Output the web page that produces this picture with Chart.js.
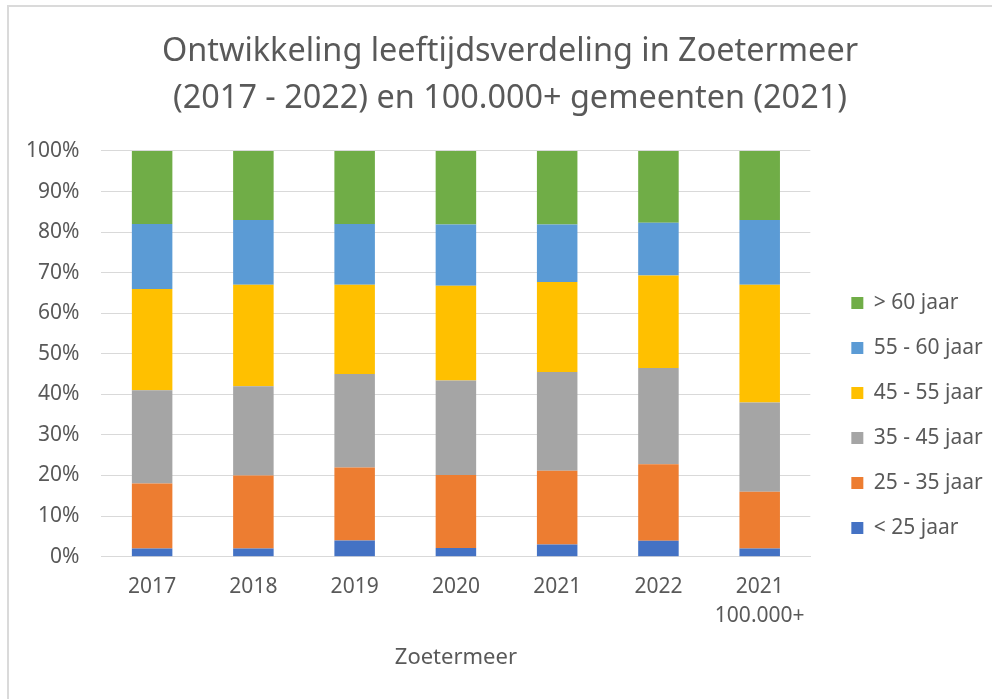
<!DOCTYPE html>
<html lang="nl">
<head>
    <meta charset="UTF-8">
    <title>Ontwikkeling leeftijdsverdeling in Zoetermeer</title>
    <script src="https://cdn.jsdelivr.net/npm/chart.js"></script>
    <style>
        body {
            margin: 0;
            background: #fff;
            font-family: 'Noto Sans', sans-serif;
        }
        .frame {
            position: absolute;
            left: 7px;
            top: 5px;
            width: 1000px;
            height: 720px;
            border-top: 2px solid #dadada;
            border-left: 2px solid #dadada;
        }
        .wrap {
            position: relative;
            width: 992px;
            height: 699px;
        }
    </style>
</head>
<body>
    <div class="frame"></div>
    <div class="wrap">
        <canvas id="ageChart"></canvas>
    </div>

    <script>
        // Categories (x axis)
        const years = ['2017', '2018', '2019', '2020', '2021', '2022', ['2021', '100.000+']];

        // Share per age group, in percent
        const under25 = [2, 2, 4, 2.1, 3, 3.9, 2];
        const age25to35 = [16, 18, 18, 18, 18.2, 18.9, 14];
        const age35to45 = [23, 22, 23, 23.3, 24.3, 23.7, 22];
        const age45to55 = [25, 25, 22, 23.4, 22.2, 22.8, 29];
        const age55to60 = [16, 16, 15, 15.1, 14.2, 13, 16];
        const over60 = [18, 17, 18, 18.1, 18.1, 17.7, 17];

        const yTicks = [0, 10, 20, 30, 40, 50, 60, 70, 80, 90, 100];

        const textColor = '#595959';
        const gridColor = '#d9d9d9';

        const data = {
            labels: years,
            datasets: [
                { label: '< 25 jaar', data: under25, backgroundColor: '#4472c4' },
                { label: '25 - 35 jaar', data: age25to35, backgroundColor: '#ed7d31' },
                { label: '35 - 45 jaar', data: age35to45, backgroundColor: '#a5a5a5' },
                { label: '45 - 55 jaar', data: age45to55, backgroundColor: '#ffc000' },
                { label: '55 - 60 jaar', data: age55to60, backgroundColor: '#5b9bd5' },
                { label: '> 60 jaar', data: over60, backgroundColor: '#70ad47' }
            ]
        };

        data.datasets.forEach(function(ds) {
            ds.barPercentage = 0.4;
            ds.categoryPercentage = 1;
        });

        // in the original the legend sits lower and the title a bit to the right
        const nudge = {
            id: 'nudge',
            afterLayout: function(chart) {
                chart.legend.top += 80;
                chart.legend.bottom += 80;
                chart.titleBlock.left += 24;
            }
        };

        new Chart(document.getElementById('ageChart'), {
            type: 'bar',
            data: data,
            plugins: [nudge],
            options: {
                responsive: true,
                maintainAspectRatio: false,
                animation: false,
                layout: {
                    padding: { top: 0, left: 4, right: 0, bottom: 28 }
                },
                scales: {
                    x: {
                        stacked: true,
                        grid: { display: false },
                        border: { display: true, color: gridColor, width: 1 },
                        ticks: {
                            color: textColor,
                            font: { family: 'Noto Sans', size: 21, lineHeight: 1.38 },
                            maxRotation: 0,
                            padding: 8
                        },
                        title: {
                            display: true,
                            text: 'Zoetermeer',
                            color: textColor,
                            font: { family: 'Noto Sans', size: 22 },
                            padding: { top: 6, bottom: 0 }
                        }
                    },
                    y: {
                        stacked: true,
                        min: 0,
                        max: 100,
                        afterBuildTicks: function(axis) {
                            axis.ticks = yTicks.map(function(v) { return { value: v }; });
                        },
                        grid: { color: gridColor, lineWidth: 1, drawTicks: false },
                        border: { display: false },
                        ticks: {
                            color: textColor,
                            font: { family: 'Noto Sans', size: 21 },
                            padding: 22,
                            callback: function(value) { return value + '%'; }
                        }
                    },
                    // empty spacer between the plot and the legend
                    gap: {
                        type: 'linear',
                        position: 'right',
                        grid: { display: false },
                        border: { display: false },
                        ticks: { display: false },
                        afterFit: function(axis) { axis.width = 17; }
                    }
                },
                plugins: {
                    title: {
                        display: true,
                        text: ['Ontwikkeling leeftijdsverdeling in Zoetermeer', '(2017 - 2022) en 100.000+ gemeenten (2021)'],
                        color: textColor,
                        font: { family: 'Noto Sans', size: 32.4, weight: 'normal', lineHeight: 1.45 },
                        padding: { top: 28, bottom: 29 }
                    },
                    legend: {
                        position: 'right',
                        reverse: true,
                        labels: {
                            color: textColor,
                            font: { family: 'Noto Sans', size: 21 },
                            boxWidth: 12,
                            boxHeight: 12,
                            padding: 24
                        }
                    },
                    tooltip: { enabled: false }
                }
            }
        });
    </script>
</body>
</html>
